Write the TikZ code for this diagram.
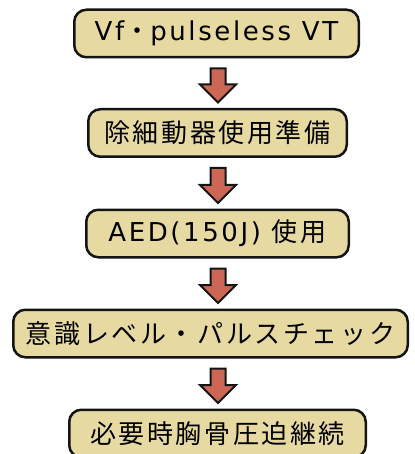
\documentclass[tikz,border=0pt]{standalone}
\usepackage{fontspec}
\setmainfont{DejaVu Sans}[LetterSpace=10]
\newfontfamily\jp{Noto Sans CJK JP}[LetterSpace=10]
\usetikzlibrary{calc}
\definecolor{boxfill}{RGB}{230,218,162}
\definecolor{arrfill}{RGB}{204,102,85}
\definecolor{edge}{RGB}{20,20,20}
\newcommand\blockarrow[2]{%
  \path ($(#1.south -| ax)+(0,10)$) coordinate (at) ($(#2.north -| ax)+(0,-5.5)$) coordinate (ap);
  \draw[blockarr] ($(at)+(-7.5,0)$) -- ($(at)+(7.5,0)$) -- ($(ap)+(7.5,-18)$) -- ($(ap)+(18,-18)$) -- (ap) -- ($(ap)+(-18,-18)$) -- ($(ap)+(-7.5,-18)$) -- cycle;}
\begin{document}
\begin{tikzpicture}[x=1pt,y=-1pt,
  box/.style={draw=edge, line width=2.5pt, fill=boxfill, rounded corners=12pt,
    minimum height=47.5pt, inner sep=0pt, font=\fontsize{26}{30}\selectfont},
  blockarr/.style={draw=edge, line width=2pt, fill=arrfill, line join=miter}]
\useasboundingbox (0,0) rectangle (414,454);
\clip (0,0) rectangle (414,454);
\coordinate (ax) at (218,0);
\node[box, minimum width=284.5pt] (b1) at (216.5,33.5) {Vf{\jp ・}pulseless VT};
\node[box, minimum width=258.5pt] (b2) at (217.5,133) {\jp 除細動器使用準備};
\node[box, minimum width=262.5pt] (b3) at (217.5,233.5) {AED(150J) {\jp 使用}};
\node[box, minimum width=394.5pt] (b4) at (210.5,333.5) {\jp 意識レベル・パルスチェック};
\node[box, minimum width=296.5pt] (b5) at (217.5,433.5) {\jp 必要時胸骨圧迫継続};
\blockarrow{b1}{b2}
\blockarrow{b2}{b3}
\blockarrow{b3}{b4}
\blockarrow{b4}{b5}
\end{tikzpicture}
\end{document}
